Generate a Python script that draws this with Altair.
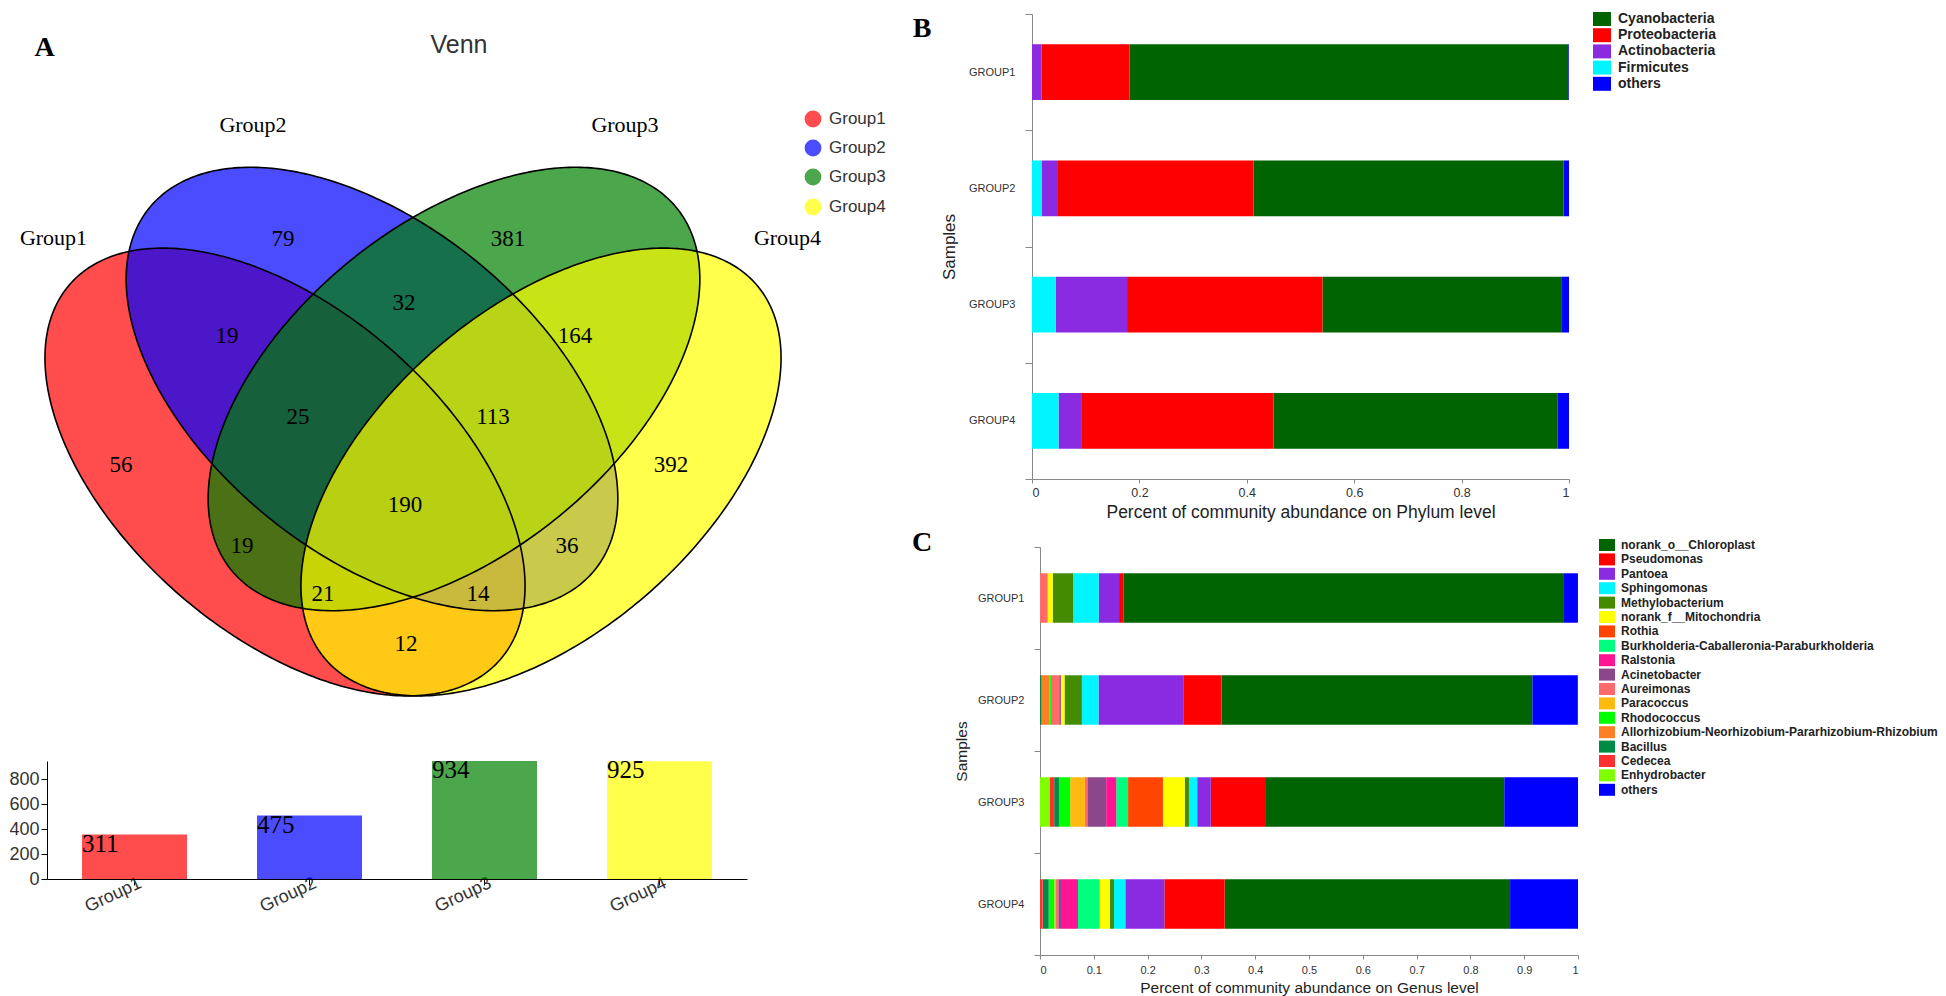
import altair as alt
import numpy as np
import pandas as pd

# ---------------- Panel A : Venn ----------------
venn_groups = ["Group1", "Group2", "Group3", "Group4"]
venn_colors = ["#FF0000", "#0000FF", "#008000", "#FFFF00"]

region_labels = ["56", "79", "381", "392", "19", "32", "164", "12",
                 "25", "113", "19", "36", "21", "14", "190"]
# layout positions of the region numbers (panel units)
region_x = [120, 282, 507, 670, 226, 403, 574, 405, 297, 492, 241, 566, 322, 477, 404]
region_y = [459, 233, 233, 459, 330, 297, 330, 638, 411, 411, 540, 540, 588, 588, 499]

# bar chart under the Venn
bar_totals = [356, 508, 945, 942]
bar_labels = ["311", "475", "934", "925"]

# ellipse layout (panel units)
ell_cx = [284, 371, 453, 540]
ell_cy = [466, 383, 383, 466]
ell_a = [285.5, 287, 287, 285.5]
ell_b = [162, 165, 165, 162]
ell_ang = [41.1, 39.1, 140.9, 138.9]

# ---------------- Panel B : phylum ----------------
samples = ["GROUP1", "GROUP2", "GROUP3", "GROUP4"]
phyla = ["Cyanobacteria", "Proteobacteria", "Actinobacteria", "Firmicutes", "others"]
phylum_colors = ["#006400", "#FF0000", "#8A2BE2", "#00F5FF", "#0000FF"]
phylum_stack = [3, 2, 1, 0, 4]
cyanobacteria = [0.817, 0.5775, 0.4445, 0.529]
proteobacteria = [0.164, 0.364, 0.364, 0.3585]
actinobacteria = [0.0177, 0.0307, 0.133, 0.042]
firmicutes = [0.0, 0.0177, 0.044, 0.0495]
phylum_others = [0.0013, 0.011, 0.0145, 0.021]

# ---------------- Panel C : genus ----------------
genera = ["norank_o__Chloroplast", "Pseudomonas", "Pantoea", "Sphingomonas",
          "Methylobacterium", "norank_f__Mitochondria", "Rothia",
          "Burkholderia-Caballeronia-Paraburkholderia", "Ralstonia", "Acinetobacter",
          "Aureimonas", "Paracoccus", "Rhodococcus",
          "Allorhizobium-Neorhizobium-Pararhizobium-Rhizobium", "Bacillus", "Cedecea",
          "Enhydrobacter", "others"]
genus_colors = ["#006400", "#FF0000", "#8A2BE2", "#00F5FF", "#458B00", "#FFFF00",
                "#FF4500", "#00FF7F", "#FF1493", "#8B4789", "#FF6A6A", "#FFB90F",
                "#00FF00", "#FF7F24", "#008B45", "#FF3030", "#7FFF00", "#0000FF"]
chloroplast = [0.8176, 0.5778, 0.4446, 0.5306]
pseudomonas = [0.008, 0.070, 0.101, 0.1121]
pantoea = [0.0378, 0.1586, 0.0252, 0.0725]
sphingomonas = [0.0477, 0.031, 0.0154, 0.0211]
methylobacterium = [0.0378, 0.0322, 0.0077, 0.008]
mitochondria = [0.0093, 0.0068, 0.0406, 0.0186]
rothia = [0.0, 0.0, 0.0648, 0.0]
burkholderia = [0.0, 0.0, 0.022, 0.0403]
ralstonia = [0.0, 0.0, 0.0187, 0.0316]
acinetobacter = [0.0, 0.003, 0.0351, 0.005]
aureimonas = [0.0143, 0.0155, 0.0044, 0.0043]
paracoccus = [0.0, 0.0, 0.0274, 0.003]
rhodococcus = [0.0, 0.003, 0.0209, 0.0105]
allorhizobium = [0.0, 0.0143, 0.0, 0.0]
bacillus = [0.0, 0.003, 0.0088, 0.0112]
cedecea = [0.0, 0.0, 0.0088, 0.005]
enhydrobacter = [0.0, 0.0, 0.0176, 0.0]
genus_others = [0.0274, 0.0845, 0.1372, 0.1262]

SANS = "Liberation Sans"
SERIF = "Liberation Serif"

# ================= left panel (Venn + bars), one layered chart =================
LW, LH = 700, 865           # plot area of the left panel
VX0, VY0 = 46, 8            # panel units of its top-left corner
xs = alt.Scale(domain=[VX0, VX0 + LW], nice=False, zero=False)
ys = alt.Scale(domain=[VY0, VY0 + LH], nice=False, zero=False, reverse=True)


def ellipse_outline(cx, cy, a, b, ang, n=360):
    t = np.linspace(0, 2 * np.pi, n + 1)
    th = np.deg2rad(ang)
    x = cx + a * np.cos(t) * np.cos(th) - b * np.sin(t) * np.sin(th)
    y = cy + a * np.cos(t) * np.sin(th) + b * np.sin(t) * np.cos(th)
    return pd.DataFrame({"x": x, "y": y, "i": np.arange(n + 1)})


def enc(ch):
    return ch.encode(x=alt.X("x:Q", scale=xs, axis=None),
                     y=alt.Y("y:Q", scale=ys, axis=None))


fill_layers, stroke_layers = [], []
for k in range(4):
    d = ellipse_outline(ell_cx[k], ell_cy[k], ell_a[k], ell_b[k], ell_ang[k])
    fill_layers.append(enc(alt.Chart(d).mark_line(
        fill=venn_colors[k], fillOpacity=0.7, strokeOpacity=0)).encode(order="i:Q"))
    stroke_layers.append(enc(alt.Chart(d).mark_line(
        color="black", strokeWidth=1.6)).encode(order="i:Q"))

num_df = pd.DataFrame({"x": region_x, "y": region_y, "t": region_labels})
nums = enc(alt.Chart(num_df).mark_text(font=SERIF, fontSize=23, baseline="middle",
                                       color="black")).encode(text="t:N")

glab_df = pd.DataFrame({"x": [52.5, 252, 624, 786.5], "y": [239, 126, 126, 239],
                        "t": venn_groups})
glabs = enc(alt.Chart(glab_df).mark_text(font=SERIF, fontSize=22, baseline="alphabetic",
                                         color="black")).encode(text="t:N")

letters_df = pd.DataFrame({"x": [43.5, 921, 921], "y": [50, 31, 545], "t": ["A", "B", "C"]})
letters = enc(alt.Chart(letters_df).mark_text(font=SERIF, fontSize=28, fontWeight="bold",
                                              baseline="alphabetic", color="black")).encode(text="t:N")

title_df = pd.DataFrame({"x": [458], "y": [47], "t": ["Venn"]})
vtitle = enc(alt.Chart(title_df).mark_text(font=SANS, fontSize=25, baseline="alphabetic",
                                           color="#333333")).encode(text="t:N")

leg_df = pd.DataFrame({"x": [812] * 4, "y": [113, 142, 171, 201], "g": venn_groups})
leg_pts = enc(alt.Chart(leg_df).mark_point(shape="circle", filled=True, size=283,
                                           opacity=0.7)).encode(
    color=alt.Color("g:N", scale=alt.Scale(domain=venn_groups, range=venn_colors), legend=None))
leg_txt = enc(alt.Chart(leg_df).mark_text(font=SANS, fontSize=17, align="left",
                                          baseline="middle", dx=16, color="#333333")).encode(text="g:N")

venn = alt.layer(*fill_layers, *stroke_layers, nums, glabs, letters, vtitle, leg_pts, leg_txt)

# bar chart, drawn in the lower part of the same panel with its own scales
bars_df = pd.DataFrame({"group": venn_groups, "total": bar_totals, "label": bar_labels})
bx = alt.X("group:N", sort=venn_groups,
           scale=alt.Scale(paddingInner=0.4, paddingOuter=0.2),
           axis=alt.Axis(title=None, orient="bottom", labelAngle=-25, labelAlign="right",
                         labelBaseline="middle", labelFont=SANS, labelFontSize=18,
                         labelColor="#333333", domainColor="black", tickColor="black",
                         tickSize=6, labelPadding=-3, labelOffset=6))
by = alt.Y("total:Q", scale=alt.Scale(domain=[0, 945], nice=False, range=[865, 747]),
           axis=alt.Axis(title=None, orient="left", values=[0, 200, 400, 600, 800], grid=False,
                         labelFont=SANS, labelFontSize=18, labelColor="#333333",
                         domainColor="black", tickColor="black", tickSize=6, labelPadding=2))
bar_marks = alt.Chart(bars_df).mark_bar(opacity=0.7).encode(
    x=bx, y=by,
    color=alt.Color("group:N", scale=alt.Scale(domain=venn_groups, range=venn_colors), legend=None))
bar_text = alt.Chart(bars_df).mark_text(font=SERIF, fontSize=25, align="left",
                                        baseline="alphabetic", dy=17, color="black").encode(
    x=alt.X("group:N", sort=venn_groups, bandPosition=0), y="total:Q", text="label:N")
bars = alt.layer(bar_marks, bar_text)

left = alt.layer(venn, bars).resolve_scale(
    x="independent", y="independent", color="independent"
).resolve_axis(x="independent", y="independent").properties(width=LW, height=LH)

# ================= Panel B =================
rows = []
for name, vals, st in zip(phyla, [cyanobacteria, proteobacteria, actinobacteria, firmicutes,
                                  phylum_others], phylum_stack):
    for s, v in zip(samples, vals):
        rows.append({"sample": s, "taxon": name, "value": v, "ord": st})
phy_df = pd.DataFrame(rows)

B = alt.Chart(phy_df).mark_bar(height={"band": 0.48}).encode(
    x=alt.X("value:Q", stack="zero", scale=alt.Scale(domain=[0, 1], nice=False, clamp=True),
            axis=alt.Axis(title="Percent of community abundance on Phylum level",
                          values=[0, 0.2, 0.4, 0.6, 0.8, 1], format="~g", grid=False,
                          labelFont=SANS, labelFontSize=12.5, labelColor="#333333",
                          domainColor="#888888", tickColor="#888888", tickSize=4,
                          labelPadding=3, titleFont=SANS, titleFontSize=17.5,
                          titleFontWeight="normal", titleColor="#222222", titlePadding=5)),
    y=alt.Y("sample:N", sort=samples, scale=alt.Scale(paddingInner=0, paddingOuter=0),
            axis=alt.Axis(title="Samples", tickBand="extent", labelFont=SANS,
                          labelFontSize=11, labelColor="#333333", domainColor="#888888",
                          tickColor="#888888", tickSize=7, labelPadding=10,
                          titleFont=SANS, titleFontSize=17, titleFontWeight="normal",
                          titleColor="#222222", titlePadding=10)),
    color=alt.Color("taxon:N", scale=alt.Scale(domain=phyla, range=phylum_colors),
                    legend=alt.Legend(title=None, orient="none", legendX=563, legendY=-2,
                                      symbolType="M-1.286,-1H1.286V1H-1.286Z", symbolSize=196,
                                      symbolStrokeWidth=0, symbolOpacity=1,
                                      labelFont=SANS, labelFontWeight="bold",
                                      labelFontSize=14, labelColor="#222222",
                                      labelOffset=9, rowPadding=2.2, padding=0)),
    order=alt.Order("ord:Q"),
).properties(width=537, height=465)

# ================= Panel C =================
genus_vals = [chloroplast, pseudomonas, pantoea, sphingomonas, methylobacterium,
              mitochondria, rothia, burkholderia, ralstonia, acinetobacter, aureimonas,
              paracoccus, rhodococcus, allorhizobium, bacillus, cedecea, enhydrobacter,
              genus_others]
rows = []
n_g = len(genera)
for gi, (name, vals) in enumerate(zip(genera, genus_vals)):
    st = n_g if name == "others" else (n_g - 2 - gi)
    for s, v in zip(samples, vals):
        rows.append({"sample": s, "taxon": name, "value": v, "ord": st})
gen_df = pd.DataFrame(rows)

C = alt.Chart(gen_df).mark_bar(height={"band": 0.485}).encode(
    x=alt.X("value:Q", stack="zero",
            scale=alt.Scale(domain=[0, 1], nice=False, clamp=True, range=[8, 546]),
            axis=alt.Axis(title="Percent of community abundance on Genus level",
                          values=[0, 0.1, 0.2, 0.3, 0.4, 0.5, 0.6, 0.7, 0.8, 0.9, 1],
                          format="~g", grid=False,
                          labelFont=SANS, labelFontSize=11, labelColor="#333333",
                          domainColor="#888888", tickColor="#888888", tickSize=4,
                          labelPadding=5, titleFont=SANS, titleFontSize=15.5,
                          titleFontWeight="normal", titleColor="#222222", titlePadding=5)),
    y=alt.Y("sample:N", sort=samples, scale=alt.Scale(paddingInner=0, paddingOuter=0),
            axis=alt.Axis(title="Samples", tickBand="extent", offset=-8, labelFont=SANS,
                          labelFontSize=11, labelColor="#333333", domainColor="#888888",
                          tickColor="#888888", tickSize=6, labelPadding=10,
                          titleFont=SANS, titleFontSize=15.5, titleFontWeight="normal",
                          titleColor="#222222", titlePadding=8)),
    color=alt.Color("taxon:N", scale=alt.Scale(domain=genera, range=genus_colors),
                    legend=alt.Legend(title=None, orient="none", legendX=569, legendY=-8,
                                      symbolType="M-1.333,-1H1.333V1H-1.333Z", symbolSize=144,
                                      symbolStrokeWidth=0, symbolOpacity=1,
                                      labelFont=SANS, labelFontWeight="bold",
                                      labelFontSize=12, labelColor="#222222",
                                      labelOffset=8, rowPadding=2.4, padding=0,
                                      labelLimit=400)),
    order=alt.Order("ord:Q"),
).properties(width=546, height=408)

right = alt.vconcat(B, C, spacing=68, bounds="flush").resolve_scale(color="independent")
chart = alt.hconcat(left, right, spacing=285, bounds="flush").resolve_scale(
    color="independent", x="independent", y="independent"
).properties(padding=0).configure_view(stroke=None)

chart.save("out.html", embed_options={"renderer": "svg", "actions": False})
